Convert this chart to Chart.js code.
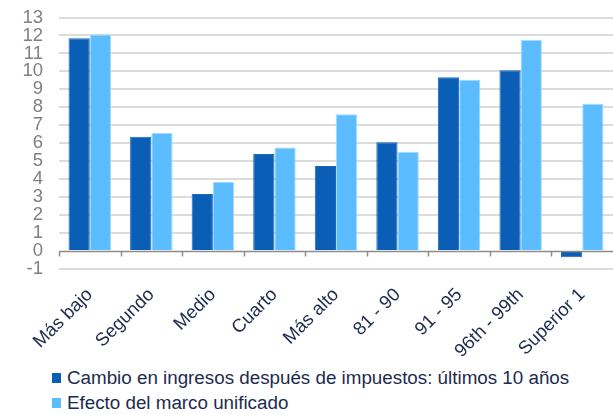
<!DOCTYPE html>
<html>
<head>
<meta charset="utf-8">
<script src="https://cdn.jsdelivr.net/npm/chart.js@4"></script>
<style>
  html, body { margin: 0; padding: 0; background: #fff; }
  #wrap { position: relative; width: 613px; height: 414px; font-family: "Liberation Sans", Arial, sans-serif; }
  #box { position: absolute; left: 0; top: 0; width: 613px; height: 360px; }
  #leyenda { position: absolute; left: 52px; top: 365px; color: #1d2b4f; font-size: 18.8px; }
  .item { display: flex; align-items: center; height: 25px; }
  .sw { width: 9px; height: 10px; margin-right: 6px; }
</style>
</head>
<body>
<div id="wrap">
  <div id="box"><canvas id="grafico"></canvas></div>
  <div id="leyenda"></div>
</div>
<script>
const categorias = ['Más bajo', 'Segundo', 'Medio', 'Cuarto', 'Más alto', '81 - 90', '91 - 95', '96th - 99th', 'Superior 1'];
const cambioIngresos = [11.85, 6.36, 3.17, 5.40, 4.73, 6.05, 9.67, 10.06, -0.35];
const efectoMarco = [12.06, 6.57, 3.84, 5.77, 7.61, 5.53, 9.54, 11.75, 8.20];
const etiquetas = ['Cambio en ingresos después de impuestos: últimos 10 años', 'Efecto del marco unificado'];

const colores = ['#0b5eb5', '#5bbdff'];
const bordes = ['#1a68bd', '#9fdcff'];

// linea del cero con marcas entre categorias
const lineaCero = {
  id: 'lineaCero',
  afterDatasetsDraw(chart) {
    const { ctx, chartArea, scales } = chart;
    const y0 = Math.round(scales.y.getPixelForValue(0)) + 0.5;
    const n = categorias.length;
    const w = (chartArea.right - chartArea.left) / n;
    ctx.save();
    ctx.strokeStyle = '#8c8c8c';
    ctx.lineWidth = 1.5;
    ctx.beginPath();
    ctx.moveTo(chartArea.left, y0);
    ctx.lineTo(chartArea.right, y0);
    for (let i = 0; i < n; i++) {
      const x = Math.round(chartArea.left + i * w) + 0.5;
      ctx.moveTo(x, y0);
      ctx.lineTo(x, y0 + 5);
    }
    ctx.stroke();
    ctx.restore();
  }
};

const grafico = new Chart(document.getElementById('grafico'), {
  type: 'bar',
  data: {
    labels: categorias,
    datasets: [cambioIngresos, efectoMarco].map((d, i) => ({
      label: etiquetas[i],
      data: d,
      backgroundColor: colores[i],
      borderColor: bordes[i],
      borderWidth: 1,
      categoryPercentage: 0.69,
      barPercentage: 1
    }))
  },
  options: {
    responsive: true,
    maintainAspectRatio: false,
    animation: false,
    layout: { padding: { top: 17.5, right: 0, left: 0, bottom: 0 } },
    plugins: {
      legend: { display: false },
      tooltip: { enabled: false }
    },
    scales: {
      x: {
        grid: { display: false },
        border: { display: false },
        ticks: {
          color: '#1d2b4f',
          font: { family: '"Liberation Sans", Arial', size: 18.5 },
          minRotation: 45,
          maxRotation: 45,
          padding: 7
        },
        afterFit: s => { s.height = 91; }
      },
      y: {
        min: -1,
        max: 13,
        border: { display: false },
        grid: {
          drawTicks: false,
          lineWidth: 2,
          color: c => c.tick && c.tick.value === 0 ? 'rgba(0,0,0,0)' : '#dcdcdc'
        },
        ticks: {
          stepSize: 1,
          autoSkip: false,
          color: '#808080',
          padding: 16,
          font: { family: '"Liberation Sans", Arial', size: 18.5, lineHeight: 1 }
        },
        afterFit: s => { s.width = 59; s.paddingTop = 0; s.paddingBottom = 0; }
      }
    }
  },
  plugins: [lineaCero]
});

document.getElementById('leyenda').innerHTML = grafico.data.datasets.map(ds =>
  `<div class="item"><span class="sw" style="background:${ds.backgroundColor}"></span>${ds.label}</div>`
).join('');
</script>
</body>
</html>
